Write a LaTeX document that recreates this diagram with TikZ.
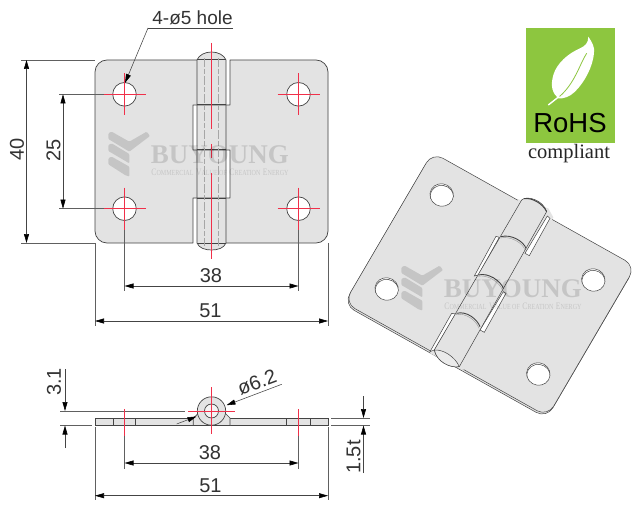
\documentclass[tikz,border=0pt]{standalone}
\usepackage{fontspec}
\usepackage{graphicx}
\setmainfont{Liberation Sans}
\newfontfamily\serifwm{Liberation Serif}
\usetikzlibrary{arrows.meta}
\definecolor{ln}{HTML}{444444}
\definecolor{plate}{HTML}{E3E3E3}
\definecolor{redc}{HTML}{F0304A}
\definecolor{green}{HTML}{8DC63F}
\definecolor{dimtxt}{HTML}{333333}
\newcommand\fs[1]{\fontsize{#1}{#1}\selectfont}
\newcommand\scw[2]{{\fs{7.6}#1}{\fs{6}#2}}
\newcommand\wmark[2]{%
  \begin{scope}[shift={(#1,#2)},x=.3333pt,y=-.3333pt,opacity=.13]
    \fill[black,rounded corners=1pt] (25,25)--(35,20)--(88,50)--(140,20)--(150,33)--(88,80)--(25,42)--cycle;
    \fill[black,rounded corners=1pt] (25,60)--(35,55)--(88,87)--(88,115)--(25,78)--cycle;
    \fill[black,rounded corners=1pt] (25,100)--(35,95)--(88,125)--(88,155)--(75,150)--(25,118)--cycle;
    \node[anchor=center,text=black,inner sep=0] (wmt#1) at (360,90) {\resizebox{138pt}{!}{\serifwm\bfseries\fs{27}BUYOUNG}};
    \node[anchor=center,text=black,inner sep=0] (wms#1) at (360,142) {\resizebox{137pt}{6.5pt}{\serifwm\scw{C}{OMMERCIAL} \scw{V}{ALUE OF} \scw{C}{REATION} \scw{E}{NERGY}}};
  \end{scope}}
\tikzset{
  outl/.style={draw=ln,line width=.7pt},
  thin line/.style={draw=ln,line width=.5pt},
  ext/.style={draw=ln!85,line width=.5pt},
  dimline/.style={draw=ln,line width=.55pt,{Stealth[length=9pt,width=5pt,inset=0pt,black]}-{Stealth[length=9pt,width=5pt,inset=0pt,black]}},
  tipend/.style={draw=ln,line width=.55pt,-{Stealth[length=9pt,width=5pt,inset=0pt,black]}},
  redl/.style={draw=redc,line width=.6pt},
  dashl/.style={draw=black!35,line width=.5pt,dash pattern=on 9pt off 2pt on 5pt off 2pt},
  lab/.style={text=dimtxt,font=\fs{20},inner sep=0},
  isom/.style={cm={.8716,-.4885,.4808,.8217,(378.5,56.69)}},
}
\begin{document}
\begin{tikzpicture}[x=1pt,y=-1pt]
\useasboundingbox (0,0) rectangle (640,508);
\fill[white] (0,0) rectangle (640,508);

% ---------- top view
\fill[plate,rounded corners=12pt] (95,60) rectangle (328.3,243);
\fill[white] (226,59) rectangle (230,105) (193,105) rectangle (197,150) (226,150) rectangle (230,198) (193,198) rectangle (197,244);
\fill[plate] (197,60) .. controls (199,55) and (205,52) .. (211.5,52) .. controls (218,52) and (224,55) .. (226,60) -- (226,243) .. controls (224,248) and (218,250) .. (211.5,250) .. controls (205,250) and (199,248) .. (197,243) -- cycle;
\draw[outl,line join=round] (197,60) [rounded corners=12pt] -- (95,60) -- (95,243) -- (150,243) [sharp corners] -- (193,243) -- (193,198) -- (230,198) -- (230,150) -- (193,150) -- (193,105) -- (230,105) -- (230,60) -- (280,60) [rounded corners=12pt] -- (328,60) -- (328,243) -- (226,243);
\draw[outl] (197,60) .. controls (199,55) and (205,52) .. (211.5,52) .. controls (218,52) and (224,55) .. (226,60) -- (226,243) .. controls (224,248) and (218,250) .. (211.5,250) .. controls (205,250) and (199,248) .. (197,243) -- cycle;
\draw[outl,line width=1pt] (197,60) -- (226,60) (197,243) -- (226,243) (197,105) -- (226,105) (197,150) -- (226,150) (197,198) -- (226,198);
\draw[dashl] (204,58) -- (204,246) (218,58) -- (218,246);
\foreach \hx/\hy in {124.5/94.3,298.5/94.3,124.5/208.7,298.5/208.7}{
  \draw[outl,fill=white] (\hx,\hy) circle[radius=11.8];
}
% extension lines, top view
\draw[ext] (21,60) -- (95,60) (21,243) -- (95,243) (59,94.3) -- (113,94.3) (59,208.7) -- (113,208.7);
\draw[ext] (95,243) -- (95,326) (328,243) -- (328,326) (124.5,220.5) -- (124.5,291) (298.5,220.5) -- (298.5,291);
% centre lines
\foreach \hx/\hy in {124.5/94.3,298.5/94.3,124.5/208.7,298.5/208.7}{
  \draw[redl] (\hx-21,\hy) -- (\hx+21,\hy) (\hx,\hy-21) -- (\hx,\hy+21);
}
\draw[redl] (211.5,43) -- (211.5,129) (211.5,144) -- (211.5,158) (211.5,173) -- (211.5,259);
% dimensions, top view
\coordinate (t40a) at (26.5,60); \coordinate (t40b) at (26.5,243);
\coordinate (t25a) at (63,94.3); \coordinate (t25b) at (63,208.7);
\coordinate (t38a) at (124.5,286); \coordinate (t38b) at (298.5,286);
\coordinate (t51a) at (95,321); \coordinate (t51b) at (328,321);
\draw[dimline] (t40a) -- (t40b);
\draw[dimline] (t25a) -- (t25b);
\draw[dimline] (t38a) -- (t38b);
\draw[dimline] (t51a) -- (t51b);
\node[lab,rotate=90] (l40) at (17,149.5) {40};
\node[lab,rotate=90] (l25) at (53.5,150) {25};
\node[lab] (l38) at (211,275.5) {38};
\node[lab] (l51) at (210.5,311) {51};
% hole leader
\coordinate (hlA) at (233,28); \coordinate (hlB) at (148,28); \coordinate (hlC) at (125,83);
\draw[tipend] (hlB) -- (hlC);
\draw[thin line] (hlA) -- (hlB);
\node[lab,font=\fs{19},anchor=base] (lhole) at (192.5,25) {4-ø5 hole};
\wmark{100}{125}

% ---------- side view
\draw[ext] (60,411) -- (185,411) (60,425.5) -- (92,425.5) (331,418) -- (370,418) (331,425.5) -- (370,425.5);
\draw[ext] (95,427) -- (95,500) (328,427) -- (328,500) (124.5,436) -- (124.5,469) (298.5,436) -- (298.5,469);
\draw[outl,fill=plate] (95,418) rectangle (328.3,425.5);
\draw[thin line] (113,418) -- (113,425.5) (135.7,418) -- (135.7,425.5) (286.7,418) -- (286.7,425.5) (310,418) -- (310,425.5);
\draw[outl,fill=plate] (193.3,425.5) -- (193.3,418) -- (200,412) -- (224,412) -- (230,418) -- (230,425.5) -- cycle;
\draw[outl,fill=plate] (211.5,411) circle[radius=14.2];
\draw[outl,fill=white!60!plate] (211.5,411) circle[radius=7];
\draw[redl] (124.5,409) -- (124.5,436) (298.5,409) -- (298.5,436) (211.5,387) -- (211.5,434) (188,411) -- (235,411);
\coordinate (pA) at (176.7,424); \coordinate (pB) at (196.5,416.5); \coordinate (pC) at (226.5,405.2); \coordinate (pD) at (281.7,384.3);
\draw[tipend] (pA) -- (pB);
\draw[tipend] (pD) -- (pC);
\coordinate (s31t) at (65,369); \coordinate (s31a) at (65,411); \coordinate (s31b) at (65,425.5); \coordinate (s31c) at (65,448);
\draw[tipend] (s31t) -- (s31a);
\draw[tipend] (s31c) -- (s31b);
\coordinate (s15t) at (363.5,396); \coordinate (s15a) at (363.5,418); \coordinate (s15b) at (363.5,425.5); \coordinate (s15c) at (363.5,473);
\draw[tipend] (s15t) -- (s15a);
\draw[tipend] (s15c) -- (s15b);
\coordinate (s38a) at (124.5,463); \coordinate (s38b) at (298.5,463);
\coordinate (s51a) at (95,495.7); \coordinate (s51b) at (328,495.7);
\draw[dimline] (s38a) -- (s38b);
\draw[dimline] (s51a) -- (s51b);
\node[lab,rotate=90] (l31) at (54,382) {3.1};
\node[lab,rotate=90] (l15) at (353.5,457) {1.5t};
\node[lab] (l38s) at (210,453) {38};
\node[lab] (l51s) at (210.5,486) {51};
\node[lab,rotate=20.5] (l62) at (257,382.5) {ø6.2};

% ---------- isometric view
\begin{scope}[shift={(-.8,1.7)}]
  \begin{scope}[isom]
    \draw[thin line,fill=plate,rounded corners=12pt] (95,60) rectangle (328,243);
  \end{scope}
\end{scope}
\begin{scope}[isom]
  \draw[thin line,fill=plate,rounded corners=12pt] (95,60) rectangle (328,243);
  \foreach \hx/\hy in {124.5/94.3,298.5/94.3,124.5/208.7,298.5/208.7}{
    \draw[thin line,fill=white] (\hx,\hy) circle[radius=11.8];
    \begin{scope}
      \clip (\hx,\hy) circle[radius=11.8];
      \draw[thin line] (\hx+1,\hy+1.4) circle[radius=11.8];
    \end{scope}
  }
\end{scope}
\begin{scope}[shift={(340,140)},x=.3333pt,y=-.3333pt]
  \fill[plate] (535,178) -- (625,205) -- (640,232) -- (370,690) -- (270,640) -- cycle;
  % slots
  \draw[thin line,fill=white] (622,228) -- (630,235) -- (568,347) -- (555,340) -- cycle;
  \draw[thin line,fill=white] (468,289) -- (478,292) -- (415,405) -- (403,408) -- cycle;
  \draw[thin line,fill=white] (490,455) -- (498,460) -- (433,577) -- (420,570) -- cycle;
  \draw[thin line,fill=white] (335,520) -- (347,522) -- (283,630) -- (270,635) -- cycle;
  % knuckle
  \draw[thin line,fill=plate] (545,180) .. controls (560,165) and (610,180) .. (620,215) -- (358,680) .. controls (330,685) and (290,665) .. (283,630) -- cycle;
  \draw[thin line,fill=plate!70!white] (283,630) .. controls (310,628) and (345,650) .. (358,680) .. controls (330,685) and (290,665) .. (283,630) -- cycle;
  \draw[draw=ln,line width=1pt] (552,176) .. controls (575,172) and (608,190) .. (620,215);
  \foreach \ax/\ay/\bx/\by in {483/290/558/325,415/405/490/445,350/520/420/560}{
    \draw[draw=ln,line width=.9pt] (\ax,\ay) .. controls (\ax+30,\ay-8) and (\bx-8,\by-22) .. (\bx,\by);
    \draw[draw=black!40,line width=.4pt] (\ax-2,\ay+4) .. controls (\ax+28,\ay-3) and (\bx-10,\by-17) .. (\bx-3,\by+5);
  }
\end{scope}
\wmark{393}{259}

% ---------- RoHS badge
\fill[green] (526,27.7) rectangle (615,143);
\begin{scope}[shift={(520,25)},x=.3333pt,y=-.3333pt]
  \fill[white] (205,35) .. controls (215,50) and (225,65) .. (222,85) .. controls (218,125) and (195,170) .. (165,200) .. controls (150,215) and (130,222) .. (115,220) .. controls (98,205) and (90,185) .. (100,150) .. controls (110,115) and (145,85) .. (180,70) .. controls (195,63) and (205,55) .. (205,35) -- cycle;
  \draw[green,line width=.8pt] (200,85) .. controls (180,115) and (165,175) .. (118,215);
  \draw[white,line width=1.4pt] (118,214) -- (85,240);
\end{scope}
\node[inner sep=0,text=black,font=\fs{27.5}] (rohs) at (570,122.7) {RoHS};
\node[inner sep=0,text=black!85,anchor=base,font=\serifwm\fs{20.5}] (comp) at (569,158) {compliant};
\end{tikzpicture}
\end{document}
